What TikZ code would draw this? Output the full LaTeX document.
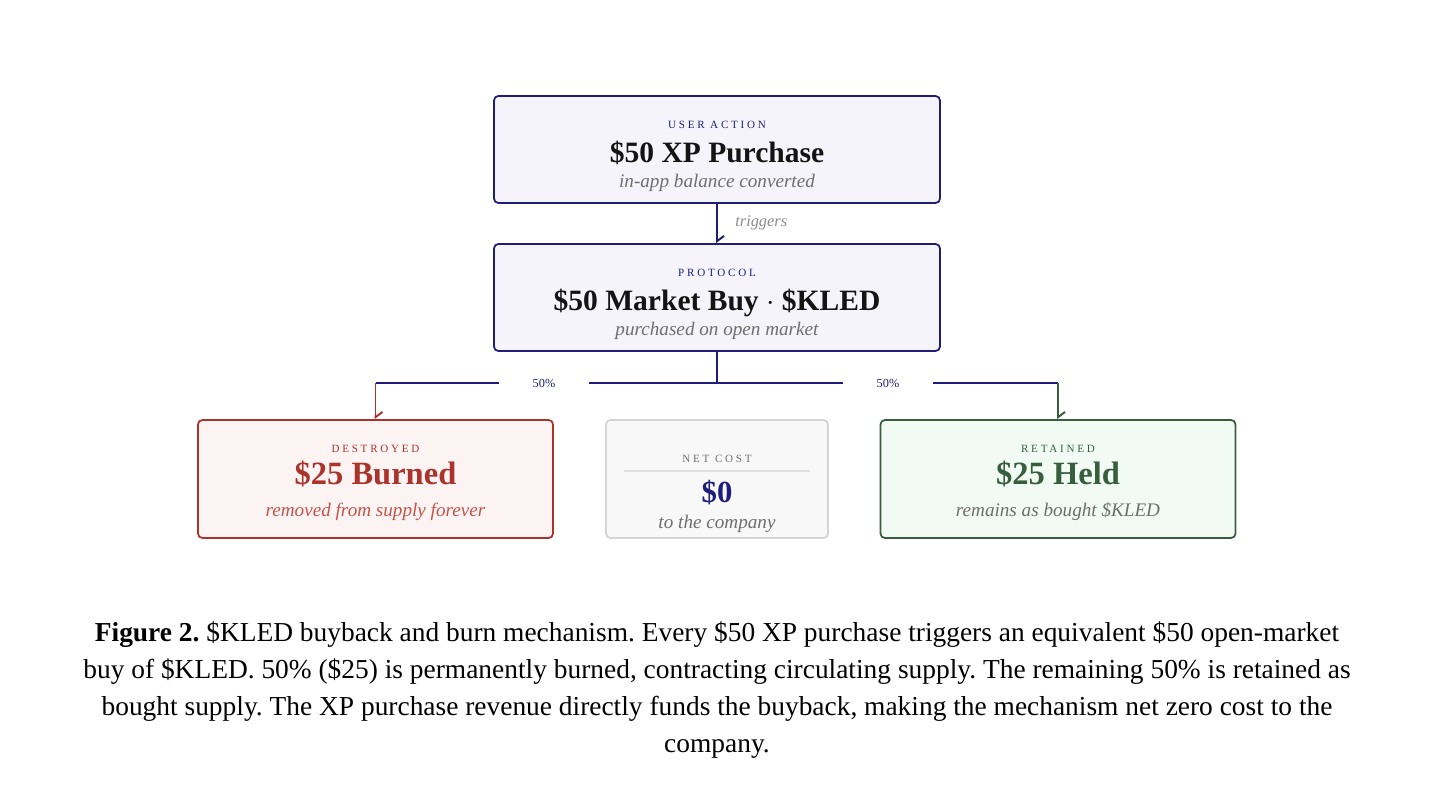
\documentclass[tikz,border=0pt]{standalone}
\usepackage{fontspec}
\setmainfont{Liberation Serif}
\newfontfamily\tagfont[LetterSpace=25]{Liberation Serif}
\usepackage{xcolor}
\definecolor{NavyInk}{RGB}{30,30,122}
\definecolor{Lavender}{RGB}{244,244,250}
\definecolor{BurnRed}{RGB}{170,52,44}
\definecolor{BurnFill}{RGB}{252,244,243}
\definecolor{BurnSoft}{RGB}{196,84,74}
\definecolor{HoldGreen}{RGB}{56,94,62}
\definecolor{HoldFill}{RGB}{241,250,243}
\definecolor{NetFill}{RGB}{248,248,248}
\definecolor{NetEdge}{RGB}{212,212,212}
\definecolor{SoftGray}{RGB}{110,110,110}
\definecolor{InkBlack}{RGB}{20,20,20}
\usepackage{tikz}
\usetikzlibrary{arrows.meta, positioning, calc}
\frenchspacing

\begin{document}
\begin{tikzpicture}[
		% box styles
		flowBox/.style={
			rectangle,
			rounded corners=2.5pt,
			minimum width=8.92cm,
			minimum height=2.14cm,
			line width=1pt,
			draw=NavyInk,
			fill=Lavender
		},
		splitBox/.style={
			rectangle,
			rounded corners=2.5pt,
			minimum width=7.1cm,
			minimum height=2.36cm,
			line width=1pt
		},
		% text styles
		tagText/.style={anchor=base, inner sep=0pt, font=\tagfont\fontsize{6.3}{7}\selectfont},
		bigText/.style={anchor=base, inner sep=0pt, font=\fontsize{16.8}{19}\selectfont\bfseries, text=InkBlack},
		noteText/.style={anchor=base, inner sep=0pt, font=\fontsize{10.9}{13}\selectfont\itshape, text=SoftGray},
		pctText/.style={inner sep=0pt, minimum width=1.8cm, font=\fontsize{7}{8}\selectfont, text=NavyInk},
		flowLine/.style={line width=0.85pt, draw=NavyInk},
		tipArrow/.style={-{Straight Barb[left, length=3pt, width=8pt, line width=1.1pt]}}
		]
		
		\useasboundingbox (0,0) rectangle (28.68,-16.08);
		
		% the user action
		\node[flowBox] (user) at (14.34,-2.99) {};
		\node[tagText, text=NavyInk] (userTag) at ([yshift=0.42cm]user.center) {USER ACTION};
		\node[bigText] (userTitle) at ([yshift=-0.25cm]user.center) {\$50 XP Purchase};
		\node[noteText] (userNote) at ([yshift=-0.76cm]user.center) {in-app balance converted};
		
		% the protocol buy
		\node[flowBox] (market) at (14.34,-5.95) {};
		\node[tagText, text=NavyInk] (marketTag) at ([yshift=0.42cm]market.center) {PROTOCOL};
		\node[bigText] (marketTitle) at ([yshift=-0.25cm]market.center) {\$50 Market Buy $\cdot$ \$KLED};
		\node[noteText] (marketNote) at ([yshift=-0.76cm]market.center) {purchased on open market};
		
		\draw[flowLine, tipArrow] (user) -- (market);
		\node[noteText, anchor=base west, text=SoftGray!80, font=\fontsize{9.3}{11}\selectfont\itshape] (trig) at (14.70,-4.54) {triggers};
		
		% burned half
		\node[splitBox, draw=BurnRed, fill=BurnFill] (burn) at (7.51,-9.58) {};
		\node[tagText, text=BurnRed] (burnTag) at ([yshift=0.53cm]burn.center) {DESTROYED};
		\node[bigText, text=BurnRed, font=\fontsize{18.5}{21}\selectfont\bfseries] (burnTitle) at ([yshift=-0.11cm]burn.center) {\$25 Burned};
		\node[noteText, text=BurnSoft] (burnNote) at ([yshift=-0.74cm]burn.center) {removed from supply forever};
		
		% net cost
		\node[splitBox, draw=NetEdge, fill=NetFill, minimum width=4.44cm] (net) at (14.34,-9.58) {};
		\node[tagText, text=SoftGray] (netTag) at ([yshift=0.33cm]net.center) {NET COST};
		\draw[line width=0.6pt, draw=NetEdge!70] ($(net.west)+(0.38,0.16)$) -- ($(net.east)+(-0.38,0.16)$);
		\node[bigText, text=NavyInk, font=\fontsize{17.5}{21}\selectfont\bfseries] (netTitle) at ([yshift=-0.47cm]net.center) {\$0};
		\node[noteText] (netNote) at ([yshift=-0.98cm]net.center) {to the company};
		
		% held half
		\node[splitBox, draw=HoldGreen, fill=HoldFill] (hold) at (21.16,-9.58) {};
		\node[tagText, text=HoldGreen] (holdTag) at ([yshift=0.53cm]hold.center) {RETAINED};
		\node[bigText, text=HoldGreen, font=\fontsize{18.5}{21}\selectfont\bfseries] (holdTitle) at ([yshift=-0.11cm]hold.center) {\$25 Held};
		\node[noteText] (holdNote) at ([yshift=-0.74cm]hold.center) {remains as bought \$KLED};
		
		% the split
		\coordinate (split) at (14.34,-7.66);
		\node[pctText] (pctL) at (10.88,-7.66) {50\%};
		\node[pctText] (pctR) at (17.76,-7.66) {50\%};
		\draw[flowLine] (market) -- (split);
		\draw[flowLine] (split) -- (pctL.east);
		\draw[flowLine] (split) -- (pctR.west);
		\draw[flowLine] (pctL.west) -- (burn.north |- split);
		\draw[flowLine] (pctR.east) -- (hold.north |- split);
		\draw[line width=0.85pt, draw=BurnRed, tipArrow] (burn.north |- split) -- (burn);
		\draw[line width=0.85pt, draw=HoldGreen, tipArrow] (hold.north |- split) -- (hold);
		
		% caption (base = last line)
		\node[anchor=base, align=center, inner sep=0pt, font=\fontsize{15.6}{21}\selectfont] (caption) at (14.34,-15.04) {%
			\textbf{Figure 2.} \$KLED buyback and burn mechanism. Every \$50 XP purchase triggers an equivalent \$50 open-market\\
			buy of \$KLED. 50\% (\$25) is permanently burned, contracting circulating supply. The remaining 50\% is retained as\\
			bought supply. The XP purchase revenue directly funds the buyback, making the mechanism net zero cost to the\\
			company.};
		
	\end{tikzpicture}
\end{document}
